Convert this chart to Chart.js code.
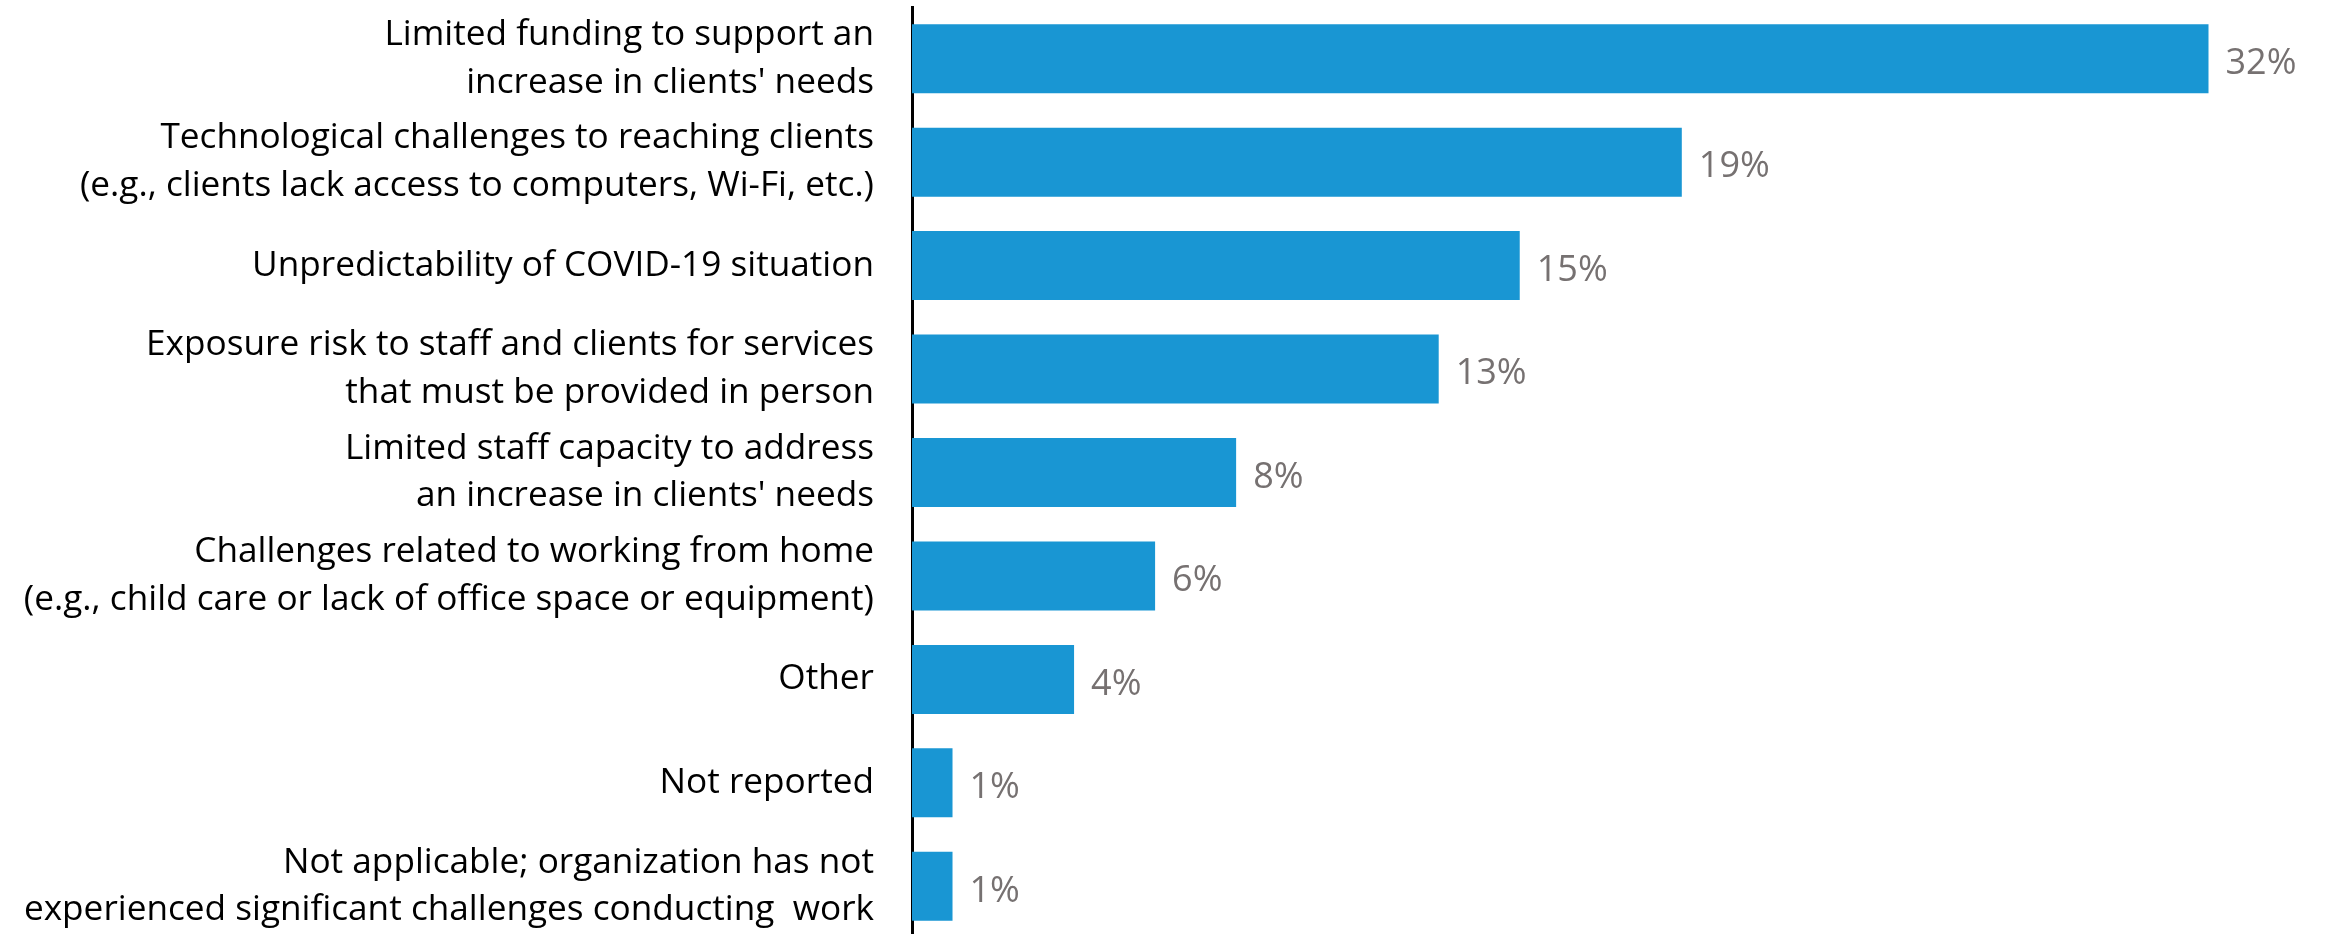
<!DOCTYPE html>
<html>
<head>
<meta charset="utf-8">
<script src="https://cdn.jsdelivr.net/npm/chart.js@4"></script>
<style>
  html, body { margin: 0; padding: 0; background: #fff; overflow: hidden; }
  #wrap { width: 2326px; height: 938px; position: relative; }
</style>
</head>
<body>
<div id="wrap"><canvas id="challengesChart"></canvas></div>
<script>
// Categories (multi-line labels), top to bottom
const categories = [
    ['Limited funding to support an', "increase in clients' needs"],
    ['Technological challenges to reaching clients', '(e.g., clients lack access to computers, Wi-Fi, etc.)'],
    'Unpredictability of COVID-19 situation',
    ['Exposure risk to staff and clients for services', 'that must be provided in person'],
    ['Limited staff capacity to address', "an increase in clients' needs"],
    ['Challenges related to working from home', '(e.g., child care or lack of office space or equipment)'],
    'Other',
    'Not reported',
    ['Not applicable; organization has not', 'experienced significant challenges conducting  work']
];

// Share of organizations, in percent
const shares = [32, 19, 15, 13, 8, 6, 4, 1, 1];

const BAR_BLUE = '#1996d3';
const VALUE_GREY = '#767171';

// Draws "NN%" just past the end of each bar
const valueLabels = {
    id: 'valueLabels',
    afterDatasetsDraw(chart) {
        const ctx = chart.ctx;
        const meta = chart.getDatasetMeta(0);
        ctx.save();
        ctx.font = '36px "Open Sans", sans-serif';
        ctx.fillStyle = VALUE_GREY;
        ctx.textAlign = 'left';
        ctx.textBaseline = 'middle';
        meta.data.forEach((bar, i) => {
            ctx.fillText(shares[i] + '%', bar.x + 17, bar.y + 5);
        });
        ctx.restore();
    }
};

new Chart(document.getElementById('challengesChart'), {
    type: 'bar',
    data: {
        labels: categories,
        datasets: [{
            data: shares,
            backgroundColor: BAR_BLUE,
            borderWidth: 0,
            barPercentage: 0.667,
            categoryPercentage: 1
        }]
    },
    options: {
        indexAxis: 'y',
        responsive: true,
        maintainAspectRatio: false,
        animation: false,
        layout: { padding: { top: 7, right: 0, bottom: 0, left: 0 } },
        plugins: {
            legend: { display: false },
            tooltip: { enabled: false }
        },
        scales: {
            x: {
                display: false,
                min: 0,
                max: 34.9
            },
            y: {
                grid: { display: false, drawTicks: false },
                border: { display: true, color: '#000', width: 3 },
                afterFit(scale) {
                    // fixed label column; labels may overhang the plot edges
                    scale.width = 912;
                    scale.paddingTop = 0;
                    scale.paddingBottom = 0;
                },
                ticks: {
                    padding: 38,
                    color: '#000',
                    font: { family: '"Open Sans", sans-serif', size: 35.2, lineHeight: 1.35 }
                }
            }
        }
    },
    plugins: [valueLabels]
});
</script>
</body>
</html>
